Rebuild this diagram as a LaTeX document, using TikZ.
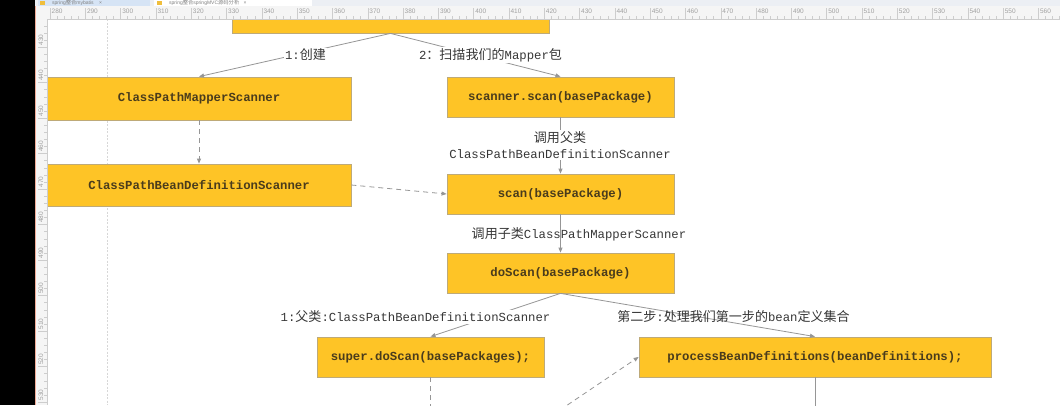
\documentclass[tikz,border=0pt]{standalone}
\usepackage{fontspec}
\setmainfont{Liberation Sans}
\newfontfamily\mono{Liberation Mono}
\newfontfamily\cjk{Noto Sans CJK SC}[Scale=1.06]
\usetikzlibrary{arrows.meta}
\definecolor{boxfill}{RGB}{254,196,38}
\definecolor{boxline}{RGB}{190,170,120}
\definecolor{boxtext}{RGB}{74,60,28}
\definecolor{lbltext}{RGB}{55,55,55}
\definecolor{conncol}{RGB}{150,150,150}
\definecolor{rulerbg}{RGB}{245,245,245}
\definecolor{rulerline}{RGB}{205,205,205}
\definecolor{rulertext}{RGB}{160,160,160}
\definecolor{tabbg}{RGB}{236,239,244}
\definecolor{tabact}{RGB}{214,228,245}
\definecolor{tabicon}{RGB}{240,190,60}
\definecolor{redline}{RGB}{240,170,150}
\definecolor{guide}{RGB}{215,215,215}
\tikzset{
  box/.style={draw=boxline, fill=boxfill, line width=0.8pt, inner sep=0pt,
    font=\mono\bfseries\fontsize{12.3}{14}\selectfont, text=boxtext},
  lbl/.style={inner sep=1pt, font=\mono\fontsize{12.3}{16}\selectfont, text=lbltext},
  conn/.style={draw=conncol, line width=0.8pt, -{Triangle[length=5pt,width=4pt]}},
  dconn/.style={conn, dash pattern=on 5pt off 4pt},
  dline/.style={draw=conncol, line width=0.8pt, dash pattern=on 5pt off 4pt},
  sline/.style={draw=conncol, line width=0.8pt},
  rnum/.style={inner sep=0pt, font=\fontsize{6.5}{7}\selectfont, text=rulertext},
  tabtxt/.style={inner sep=0pt, font=\fontsize{5}{5.5}\selectfont, text=gray},
}
\begin{document}
\begin{tikzpicture}[x=1pt,y=-1pt]
\useasboundingbox (0,0) rectangle (1060,405);
\clip (0,0) rectangle (1060,405);
\fill[white] (0,0) rectangle (1060,405);
% page guide
\draw[guide, dash pattern=on 2pt off 1.5pt, line width=0.6pt] (107,19) -- (107,405);

% boxes
\node[box, minimum width=317, minimum height=60] (top) at (390.5,3) {};
\node[box, minimum width=304, minimum height=43] (b1) at (199,98.5) {ClassPathMapperScanner};
\node[box, minimum width=304, minimum height=42] (b2) at (199,185) {ClassPathBeanDefinitionScanner};
\node[box, minimum width=227, minimum height=40] (b3) at (560.5,97) {scanner.scan(basePackage)};
\node[box, minimum width=227, minimum height=40] (b4) at (560.5,194) {scan(basePackage)};
\node[box, minimum width=227, minimum height=40] (b5) at (560.5,273) {doScan(basePackage)};
\node[box, minimum width=227, minimum height=40] (b6) at (430.5,357) {super.doScan(basePackages);};
\node[box, minimum width=352, minimum height=40] (b7) at (815,357) {processBeanDefinitions(beanDefinitions);};

% free ends
\coordinate (e1) at (430.5,410);
\coordinate (e2) at (560,410);
\coordinate (e3) at (815,410);

% connectors
\draw[conn] (top.south) -- (b1.north);
\draw[conn] (top.south) -- (b3.north);
\draw[dconn] (b1.south) -- (b2.north);
\draw[dconn] (b2.east) -- (b4.west);
\draw[conn] (b3.south) -- (b4.north);
\draw[conn] (b4.south) -- (b5.north);
\draw[conn] (b5.south) -- (b6.north);
\draw[conn] (b5.south) -- (b7.north);
\draw[dline] (b6.south) -- (e1);
\draw[dconn] (e2) -- (b7.west);
\draw[sline] (b7.south) -- (e3);

% labels
\node[lbl, fill=white] (l1) at (305.5,55) {1:{\cjk 创建}};
\node[lbl, fill=white] (l2) at (490.5,55) {2{\cjk ：扫描我们的}Mapper{\cjk 包}};
\node[lbl, fill=white, align=center] (l3) at (560,145) {{\cjk 调用父类}\\ClassPathBeanDefinitionScanner};
\node[lbl] (l4) at (579,234) {{\cjk 调用子类}ClassPathMapperScanner};
\node[lbl, fill=white] (l5) at (415.5,317) {1:{\cjk 父类}:ClassPathBeanDefinitionScanner};
\node[lbl] (l6) at (733.5,317) {{\cjk 第二步}:{\cjk 处理我们第一步的}bean{\cjk 定义集合}};

% ---- editor chrome on top ----
% black strip
\fill[black] (0,0) rectangle (35,405);
% tab bar
\fill[tabbg] (35,0) rectangle (1060,6);
\fill[tabact] (38,0) rectangle (150,6);
\fill[white] (154,0) rectangle (312,6);
\fill[tabicon] (40,0.5) rectangle (45,5);
\fill[tabicon] (157,0.5) rectangle (162,5);
\node[tabtxt, anchor=west] (tab1) at (52,3) {spring{\cjk 整合}mybatis\ \ \ \ ×};
\node[tabtxt, anchor=west] (tab2) at (169,3) {spring{\cjk 整合}springMVC{\cjk 源码分析}\ \ \ ×};
% top ruler
\fill[rulerbg] (35,6) rectangle (1060,19);
\draw[rulerline] (35,19) -- (1060,19);
\foreach \n in {276,278,...,566} {
  \pgfmathsetmacro\xx{50+(\n-280)*3.53}
  \draw[rulerline] (\xx,16) -- (\xx,19);
}
\foreach \n in {280,290,...,560} {
  \pgfmathsetmacro\xx{50+(\n-280)*3.53}
  \draw[rulerline] (\xx,8) -- (\xx,19);
  \node[rnum, anchor=west] (rt\n) at (\xx+1.5,11.5) {\n};
}
% left ruler
\fill[rulerbg] (36,6) rectangle (47,405);
\draw[rulerline] (47,19) -- (47,405);
\foreach \n in {424,426,...,536} {
  \pgfmathsetmacro\yy{47+(\n-430)*3.55}
  \draw[rulerline] (44,\yy) -- (47,\yy);
}
\foreach \n in {430,440,...,530} {
  \pgfmathsetmacro\yy{47+(\n-430)*3.55}
  \draw[rulerline] (38,\yy) -- (47,\yy);
  \node[rnum, rotate=90, anchor=west] (rl\n) at (41,\yy-1.5) {\n};
}
\draw[redline, line width=1pt] (35.5,6) -- (35.5,405);
\end{tikzpicture}
\end{document}
